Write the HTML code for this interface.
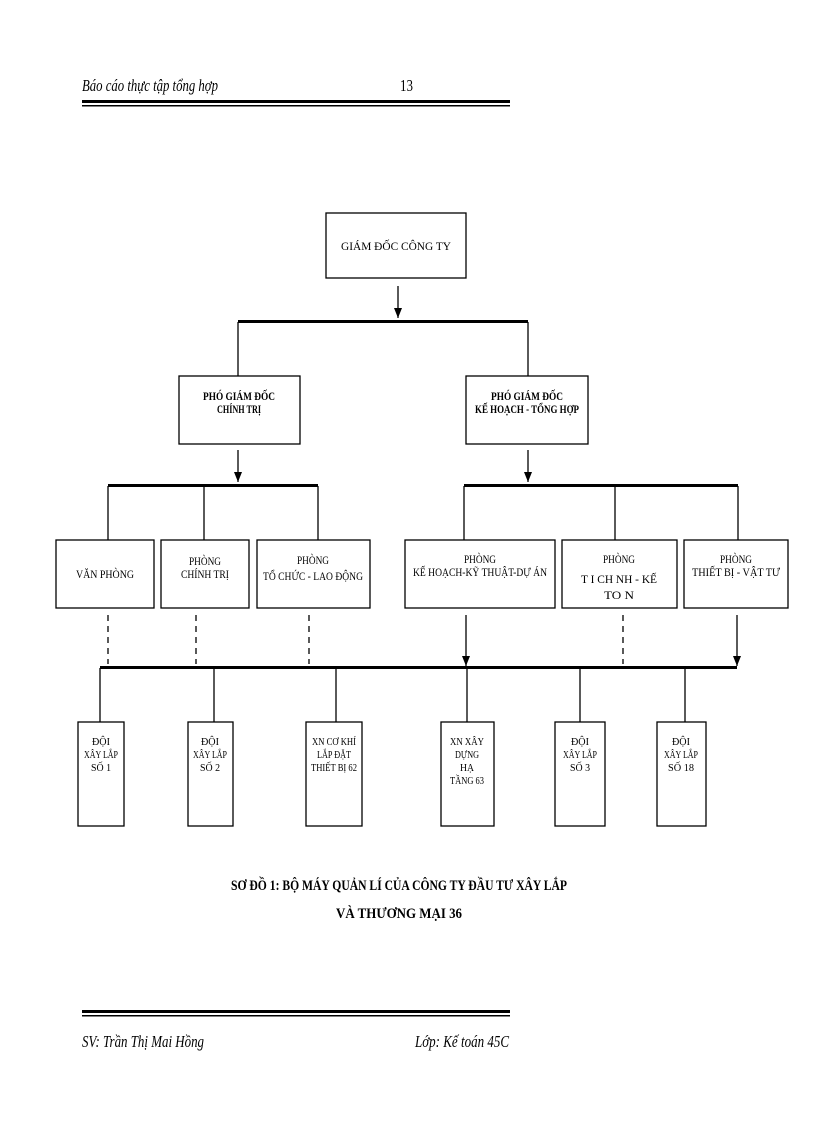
<!DOCTYPE html>
<html><head><meta charset="utf-8"><style>
html,body{margin:0;padding:0;background:#fff;}
svg{display:block;}
text{font-family:"Liberation Serif",serif;fill:#000;}
</style></head><body>
<svg width="816" height="1123" viewBox="0 0 816 1123" xmlns="http://www.w3.org/2000/svg">
<defs>
<marker id="a" markerWidth="8" markerHeight="10" refX="4" refY="10" orient="0" markerUnits="userSpaceOnUse"><path d="M0,0 L8,0 L4,10 z" fill="#000"/></marker></defs>
<text x="82" y="91" font-size="17" font-style="italic" textLength="136" lengthAdjust="spacingAndGlyphs">Báo cáo thực tập tổng hợp</text>
<text x="400" y="91" font-size="17" textLength="13" lengthAdjust="spacingAndGlyphs">13</text>
<rect x="82" y="100" width="428" height="3" fill="#000"/>
<rect x="82" y="105" width="428" height="1.5" fill="#000"/>
<g stroke="#000" fill="none" stroke-width="1.3">
<rect x="326" y="213" width="140" height="65"/>
<rect x="179" y="376" width="121" height="68"/>
<rect x="466" y="376" width="122" height="68"/>
<rect x="56" y="540" width="98" height="68"/>
<rect x="161" y="540" width="88" height="68"/>
<rect x="257" y="540" width="113" height="68"/>
<rect x="405" y="540" width="150" height="68"/>
<rect x="562" y="540" width="115" height="68"/>
<rect x="684" y="540" width="104" height="68"/>
<rect x="78" y="722" width="46" height="104"/>
<rect x="188" y="722" width="45" height="104"/>
<rect x="306" y="722" width="56" height="104"/>
<rect x="441" y="722" width="53" height="104"/>
<rect x="555" y="722" width="50" height="104"/>
<rect x="657" y="722" width="49" height="104"/>
<line x1="398" y1="286" x2="398" y2="318" marker-end="url(#a)"/>
<line x1="238" y1="322" x2="238" y2="376"/><line x1="528" y1="322" x2="528" y2="376"/>
<line x1="238" y1="450" x2="238" y2="482" marker-end="url(#a)"/>
<line x1="528" y1="450" x2="528" y2="482" marker-end="url(#a)"/>
<line x1="108" y1="486" x2="108" y2="540"/><line x1="204" y1="486" x2="204" y2="540"/><line x1="318" y1="486" x2="318" y2="540"/>
<line x1="464" y1="486" x2="464" y2="540"/><line x1="615" y1="486" x2="615" y2="540"/><line x1="738" y1="486" x2="738" y2="540"/>
<g stroke-dasharray="6,5"><line x1="108" y1="615" x2="108" y2="664"/><line x1="196" y1="615" x2="196" y2="664"/><line x1="309" y1="615" x2="309" y2="664"/><line x1="623" y1="615" x2="623" y2="664"/></g>
<line x1="466" y1="615" x2="466" y2="666" marker-end="url(#a)"/>
<line x1="737" y1="615" x2="737" y2="666" marker-end="url(#a)"/>
<line x1="100" y1="668" x2="100" y2="722"/><line x1="214" y1="668" x2="214" y2="722"/><line x1="336" y1="668" x2="336" y2="722"/>
<line x1="467" y1="668" x2="467" y2="722"/><line x1="580" y1="668" x2="580" y2="722"/><line x1="685" y1="668" x2="685" y2="722"/>
</g>
<g fill="#000">
<rect x="238" y="320" width="290" height="3"/>
<rect x="108" y="484" width="210" height="3"/>
<rect x="464" y="484" width="274" height="3"/>
<rect x="100" y="666" width="637" height="3"/>
</g>
<g font-size="12" text-anchor="middle">
<text x="396" y="250" textLength="110" lengthAdjust="spacingAndGlyphs">GIÁM ĐỐC CÔNG TY</text>
<text x="239" y="400" textLength="72" lengthAdjust="spacingAndGlyphs" font-weight="bold">PHÓ GIÁM ĐỐC</text>
<text x="239" y="413" textLength="44" lengthAdjust="spacingAndGlyphs" font-weight="bold">CHÍNH TRỊ</text>
<text x="527" y="400" textLength="72" lengthAdjust="spacingAndGlyphs" font-weight="bold">PHÓ GIÁM ĐỐC</text>
<text x="527" y="413" textLength="104" lengthAdjust="spacingAndGlyphs" font-weight="bold">KẾ HOẠCH - TỔNG HỢP</text>
<text x="105" y="578" textLength="58" lengthAdjust="spacingAndGlyphs">VĂN PHÒNG</text>
<text x="205" y="565" textLength="32" lengthAdjust="spacingAndGlyphs">PHÒNG</text>
<text x="205" y="578" textLength="48" lengthAdjust="spacingAndGlyphs">CHÍNH TRỊ</text>
<text x="313" y="564" textLength="32" lengthAdjust="spacingAndGlyphs">PHÒNG</text>
<text x="313" y="580" textLength="100" lengthAdjust="spacingAndGlyphs">TỔ CHỨC - LAO ĐỘNG</text>
<text x="480" y="563" textLength="32" lengthAdjust="spacingAndGlyphs">PHÒNG</text>
<text x="480" y="576" textLength="134" lengthAdjust="spacingAndGlyphs">KẾ HOẠCH-KỸ THUẬT-DỰ ÁN</text>
<text x="619" y="563" textLength="32" lengthAdjust="spacingAndGlyphs">PHÒNG</text>
<text x="619" y="583" textLength="76" lengthAdjust="spacingAndGlyphs">T  I CH   NH - KẾ</text>
<text x="619" y="599" textLength="30" lengthAdjust="spacingAndGlyphs">TO   N</text>
<text x="736" y="563" textLength="32" lengthAdjust="spacingAndGlyphs">PHÒNG</text>
<text x="736" y="576" textLength="88" lengthAdjust="spacingAndGlyphs">THIẾT BỊ - VẬT TƯ</text>
</g>
<g font-size="11" text-anchor="middle">
<text x="101" y="745" textLength="18" lengthAdjust="spacingAndGlyphs">ĐỘI</text>
<text x="101" y="758" textLength="34" lengthAdjust="spacingAndGlyphs">XÂY LẮP</text>
<text x="101" y="771" textLength="20" lengthAdjust="spacingAndGlyphs">SỐ 1</text>
<text x="210" y="745" textLength="18" lengthAdjust="spacingAndGlyphs">ĐỘI</text>
<text x="210" y="758" textLength="34" lengthAdjust="spacingAndGlyphs">XÂY LẮP</text>
<text x="210" y="771" textLength="20" lengthAdjust="spacingAndGlyphs">SỐ 2</text>
<text x="334" y="745" textLength="44" lengthAdjust="spacingAndGlyphs">XN CƠ KHÍ</text>
<text x="334" y="758" textLength="34" lengthAdjust="spacingAndGlyphs">LẮP ĐẶT</text>
<text x="334" y="771" textLength="46" lengthAdjust="spacingAndGlyphs">THIẾT BỊ 62</text>
<text x="467" y="745" textLength="34" lengthAdjust="spacingAndGlyphs">XN XÂY</text>
<text x="467" y="758" textLength="24" lengthAdjust="spacingAndGlyphs">DỰNG</text>
<text x="467" y="771" textLength="14" lengthAdjust="spacingAndGlyphs">HẠ</text>
<text x="467" y="784" textLength="34" lengthAdjust="spacingAndGlyphs">TẦNG 63</text>
<text x="580" y="745" textLength="18" lengthAdjust="spacingAndGlyphs">ĐỘI</text>
<text x="580" y="758" textLength="34" lengthAdjust="spacingAndGlyphs">XÂY LẮP</text>
<text x="580" y="771" textLength="20" lengthAdjust="spacingAndGlyphs">SỐ 3</text>
<text x="681" y="745" textLength="18" lengthAdjust="spacingAndGlyphs">ĐỘI</text>
<text x="681" y="758" textLength="34" lengthAdjust="spacingAndGlyphs">XÂY LẮP</text>
<text x="681" y="771" textLength="26" lengthAdjust="spacingAndGlyphs">SỐ 18</text>
</g>
<text x="399" y="890" font-size="15" font-weight="bold" text-anchor="middle" textLength="336" lengthAdjust="spacingAndGlyphs">SƠ ĐỒ 1: BỘ MÁY QUẢN LÍ CỦA CÔNG TY ĐẦU TƯ XÂY LẮP</text>
<text x="399" y="918" font-size="15" font-weight="bold" text-anchor="middle" textLength="126" lengthAdjust="spacingAndGlyphs">VÀ THƯƠNG MẠI 36</text>
<rect x="82" y="1010" width="428" height="3" fill="#000"/>
<rect x="82" y="1015" width="428" height="1.5" fill="#000"/>
<text x="82" y="1047" font-size="17" font-style="italic" textLength="122" lengthAdjust="spacingAndGlyphs">SV: Trần Thị Mai Hồng</text>
<text x="415" y="1047" font-size="17" font-style="italic" textLength="94" lengthAdjust="spacingAndGlyphs">Lớp: Kế toán 45C</text>
</svg>
</body></html>
